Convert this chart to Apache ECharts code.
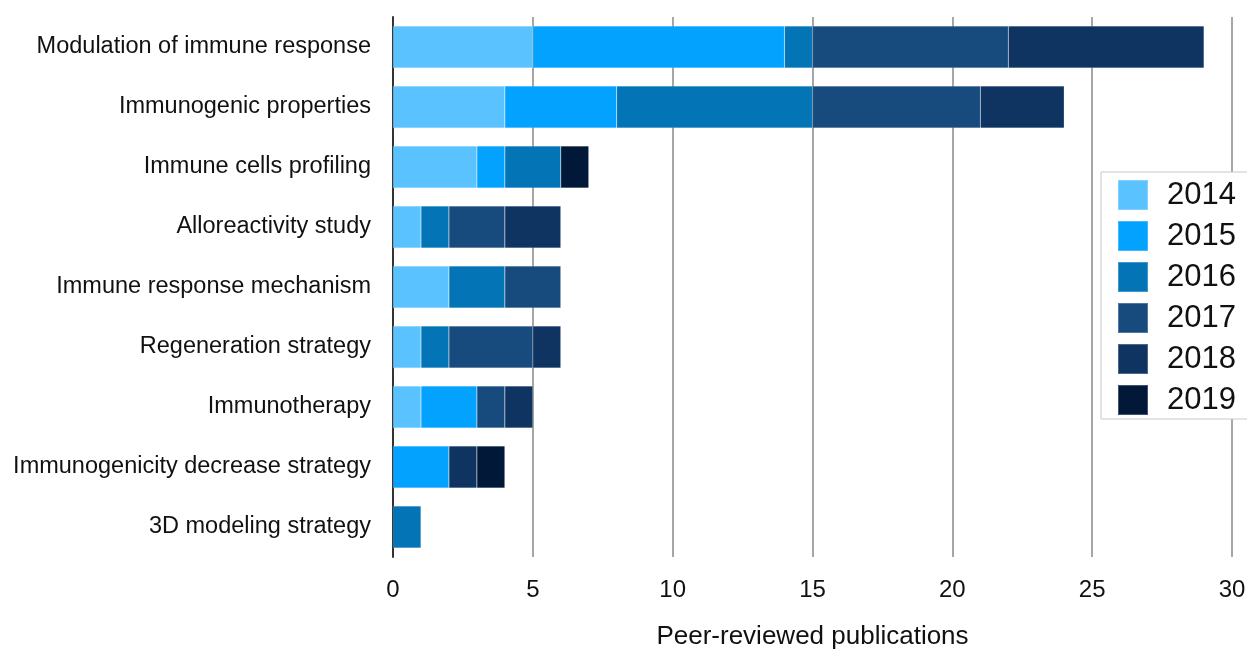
<!DOCTYPE html>
<html><head><meta charset="utf-8">
<script src="https://cdn.jsdelivr.net/npm/echarts@6/dist/echarts.min.js"></script>
<style>html,body{margin:0;padding:0;background:#fff}#c{width:1247px;height:650px}</style>
</head><body><div id="c"></div>
<script>
const categories = ["Modulation of immune response","Immunogenic properties","Immune cells profiling","Alloreactivity study","Immune response mechanism","Regeneration strategy","Immunotherapy","Immunogenicity decrease strategy","3D modeling strategy"];
const years = ["2014","2015","2016","2017","2018","2019"];
const y2014 = [5,4,3,1,2,1,1,0,0];
const y2015 = [9,4,1,0,0,0,2,2,0];
const y2016 = [1,7,2,1,2,1,0,0,1];
const y2017 = [7,6,0,2,2,3,1,0,0];
const y2018 = [7,3,0,2,0,1,1,1,0];
const y2019 = [0,0,1,0,0,0,0,1,0];
const xTicks = [0,5,10,15,20,25,30];
const colors = ["#5AC2FE","#03A2FE","#0374B6","#174B7E","#0F3462","#021838"];
const seriesData = [y2014,y2015,y2016,y2017,y2018,y2019];
const font = "'Liberation Sans', Arial, sans-serif";
const chart = echarts.init(document.getElementById('c'));
chart.setOption({
  animation:false,
  color: colors,
  textStyle:{fontFamily:font},
  grid:{left:393,right:15,top:17,bottom:93,containLabel:false,outerBoundsMode:'none'},
  legend:{
    orient:'vertical', left:1101, top:172, data:years,
    itemWidth:30,itemHeight:30,itemGap:9,
    padding:[7,14,3,16],
    borderColor:'#c8c8c8',borderWidth:1,backgroundColor:'#fff',
    textStyle:{fontSize:31,lineHeight:30,color:'#111',fontFamily:font,padding:[0,0,0,14]},
    icon:'rect'
  },
  xAxis:{
    type:'value',min:xTicks[0],max:xTicks[xTicks.length-1],interval:5,
    name:'Peer-reviewed publications',nameLocation:'middle',nameGap:67,
    nameTextStyle:{fontSize:26,color:'#111',fontFamily:font},
    axisLabel:{fontSize:24,color:'#111',margin:21,fontFamily:font},
    axisLine:{show:false},axisTick:{show:false},
    splitLine:{show:true,lineStyle:{color:'#a6a6a6',width:2}}
  },
  yAxis:{
    type:'category',data:categories,inverse:true,
    axisLabel:{fontSize:23.5,color:'#111',margin:22,fontFamily:font},
    axisLine:{show:true,lineStyle:{color:'#333',width:2}},
    axisTick:{show:false}
  },
  series: years.map((y,i)=>({
    name:y,type:'bar',stack:'total',barWidth:42,
    data:seriesData[i].map(v=>v===0?null:v),
    itemStyle:{color:colors[i],borderColor:'rgba(255,255,255,0.25)',borderWidth:0.5}
  }))
});
</script></body></html>
